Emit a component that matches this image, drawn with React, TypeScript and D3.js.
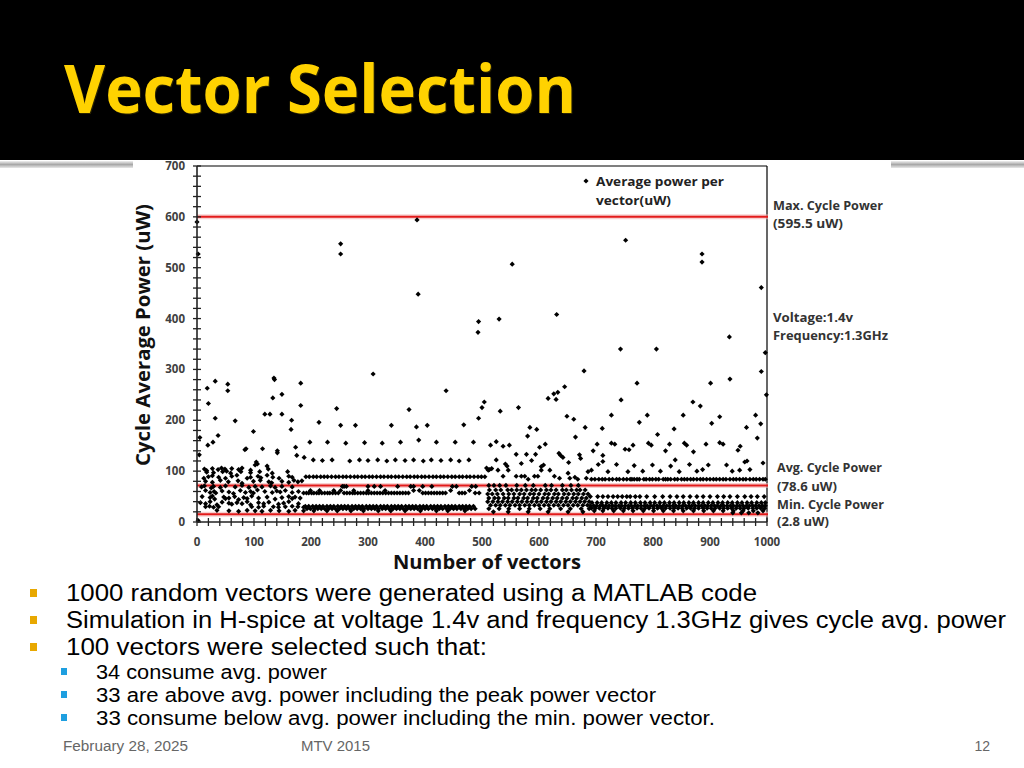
import React from 'react';
import * as d3 from 'd3';

// ---------- axis ticks ----------
const yTickValues = [0, 100, 200, 300, 400, 500, 600, 700];
const xTickValues = [0, 100, 200, 300, 400, 500, 600, 700, 800, 900, 1000];
// reference lines as drawn in the picture (max, avg, min)
const refLineValues = [600, 72, 15];

// ---------- scattered points [vector index, power uW] ----------
const scatterA: [number, number][] = [
  [2, 3],
  [13, 104], [17, 101], [27, 105], [37, 103], [43, 106], [49, 104], [52, 100], [61, 105], [73, 103], [79, 106], [94, 102], [102, 112], [106, 114], [123, 110], [125, 104], [104, 118],
  [17, 98], [29, 97], [45, 99], [59, 96], [77, 99], [94, 97], [110, 99], [132, 96], [159, 99],
  [12, 86], [20, 89], [27, 91], [38, 88], [50, 86], [61, 90], [70, 92], [88, 86], [94, 88], [107, 90], [112, 87], [123, 92], [133, 88], [144, 86], [161, 90], [167, 88],
  [15, 80], [27, 78], [41, 82], [55, 79], [72, 81], [79, 76], [99, 80], [111, 82], [126, 79], [131, 77], [149, 80], [161, 78], [170, 82], [177, 79], [184, 81],
  [8, 69], [13, 71], [25, 67], [29, 70], [41, 68], [50, 71], [67, 69], [79, 72], [91, 68], [102, 70], [114, 69], [129, 71], [137, 68], [149, 70], [167, 69],
  [15, 62], [23, 58], [30, 60], [33, 57], [44, 61], [56, 59], [64, 56], [76, 62], [85, 58], [94, 60], [99, 57], [106, 63], [119, 60], [132, 58], [140, 61], [146, 59], [155, 62], [167, 58], [178, 60], [187, 57],
  [9, 50], [23, 48], [27, 51], [31, 45], [47, 49], [50, 46], [56, 47], [66, 50], [73, 44], [82, 48], [88, 46], [96, 51], [108, 47], [123, 49], [137, 45], [149, 48], [161, 50], [167, 46], [172, 49], [181, 47],
  [6, 38], [15, 36], [23, 40], [35, 34], [44, 39], [56, 37], [61, 35], [70, 38], [79, 36], [88, 40], [94, 34], [108, 38], [117, 36], [126, 39], [143, 35], [152, 37], [161, 40], [178, 36],
  [15, 30], [22, 31], [29, 29], [38, 30], [96, 30], [108, 29], [117, 31], [134, 30], [143, 29], [155, 30], [167, 31], [177, 30], [187, 29],
  [35, 23], [56, 22], [73, 21], [88, 23], [102, 22], [114, 21], [129, 23], [144, 22], [161, 21], [172, 23], [187, 22],
];

const scatterHigh: [number, number][] = [
  // 0-190
  [0, 590], [2, 527], [5, 166], [4, 132], [18, 263], [20, 233], [19, 151], [28, 157], [37, 170], [32, 277], [32, 204], [54, 271], [54, 258], [67, 199], [99, 178], [84, 142], [86, 144], [115, 144], [119, 212], [128, 212], [135, 283], [136, 280], [133, 244], [149, 251], [149, 212], [141, 140], [141, 136], [182, 273], [182, 229], [166, 200], [165, 182], [173, 147], [175, 131], [188, 127],
  // 190-510
  [198, 157], [229, 157], [261, 155], [294, 156], [325, 155], [357, 157], [389, 161], [420, 157], [453, 157], [485, 157],
  [214, 196], [252, 190], [278, 190], [341, 190], [385, 187], [404, 190], [468, 191],
  [204, 122], [220, 121], [237, 122], [268, 120], [285, 122], [300, 121], [317, 122], [333, 120], [348, 122], [365, 121], [380, 122], [397, 120], [411, 122], [428, 121], [445, 122], [460, 120], [477, 122],
  [245, 223], [252, 547], [252, 527], [309, 291], [372, 221], [386, 594], [388, 448], [437, 258], [494, 394], [493, 373], [494, 204], [500, 225], [504, 236], [508, 106], [511, 102],
  // 510-690
  [513, 103], [517, 105], [528, 102], [546, 102], [604, 102], [619, 102], [651, 96], [686, 99], [692, 102],
  [537, 90], [560, 90], [569, 90], [575, 90], [581, 84], [592, 90], [598, 90], [627, 90], [636, 86], [654, 86], [663, 88], [668, 84], [683, 86],
  [515, 151], [525, 158], [532, 218], [537, 149], [548, 151], [525, 122], [541, 114], [544, 110], [560, 133], [564, 225], [569, 115], [578, 133], [580, 169], [584, 186], [587, 121], [594, 133], [596, 182], [601, 147], [604, 109], [608, 112], [611, 153], [616, 243], [626, 252], [630, 241], [633, 255], [635, 135], [638, 131], [642, 127], [645, 266], [649, 208], [652, 117], [661, 202], [664, 167], [671, 132], [673, 125], [679, 297], [681, 186], [553, 507], [530, 399], [631, 408],
  // 690-1000
  [702, 153], [695, 140], [727, 155], [733, 153], [751, 143], [758, 142], [765, 151], [712, 131], [704, 113], [712, 119], [736, 113], [767, 111], [711, 184], [727, 210], [744, 240], [772, 273], [721, 99], [756, 99], [743, 340], [752, 554], [806, 340],
  [901, 273], [935, 281], [990, 296], [999, 250], [776, 196], [790, 210], [853, 210], [870, 236], [883, 228], [903, 194], [917, 207], [964, 186], [980, 210], [989, 193], [983, 165], [808, 172], [837, 183], [792, 155], [797, 151], [829, 153], [855, 155], [859, 151], [871, 138], [822, 140], [893, 153], [917, 156], [923, 153], [949, 141], [953, 149],
  [782, 100], [799, 112], [813, 100], [831, 110], [839, 122], [846, 99], [864, 113], [877, 100], [887, 103], [897, 112], [929, 112], [939, 100], [952, 102], [961, 118], [965, 120], [970, 103], [993, 116], [886, 527], [886, 511], [934, 364], [990, 461], [997, 333],
];

// ---------- dense rows (vector indices that sit on one power level) ----------
const rowB89 = [191, 197, 204, 210, 217, 223, 229, 236, 243, 249, 256, 262, 269, 276, 282, 289, 295, 302, 308, 315, 322, 328, 335, 341, 348, 354, 361, 368, 374, 381, 387, 394, 400, 407, 414, 420, 427, 433, 440, 447, 453, 460, 466, 473, 479, 486, 493, 499, 505];
const rowB70 = [255, 258, 262, 300, 311, 322, 352, 375, 380, 396, 412, 448, 455, 482, 489];
const rowB57 = [192, 196, 201, 205, 210, 214, 219, 224, 229, 233, 238, 243, 248, 258, 263, 268, 273, 277, 282, 287, 292, 297, 301, 306, 311, 316, 321, 326, 331, 336, 341, 346, 351, 356, 361, 366, 371, 396, 401, 406, 411, 416, 421, 426, 431, 436, 460, 465, 470, 488, 495];
const rowB62 = [199, 215, 240, 252, 275, 300, 330, 380, 390, 445, 478];
const rowB31 = [190, 196, 203, 209, 215, 221, 228, 234, 240, 247, 253, 259, 265, 272, 278, 284, 290, 297, 303, 309, 315, 322, 328, 334, 341, 347, 353, 359, 366, 372, 378, 384, 391, 397, 403, 410, 416, 422, 428, 435, 441, 447, 453, 460, 466, 472, 478, 485];
const rowB26 = [193, 199, 206, 212, 218, 224, 231, 237, 243, 250, 256, 262, 268, 275, 281, 287, 293, 300, 306, 312, 318, 325, 331, 337, 344, 350, 356, 362, 369, 375, 381, 387, 394, 400, 406, 413, 419, 425, 431, 438, 444, 450, 456, 463, 469, 475, 481, 488];
const rowB22 = [205, 228, 246, 270, 292, 318, 340, 365, 392, 420, 440, 470];

const rowC72 = [512, 521, 531, 542, 561, 576, 590, 611, 622, 641, 656, 669];
const rowC63 = [513, 524, 533, 545, 552, 561, 569, 578, 587, 594, 603, 613, 621, 630, 641, 648, 657, 666, 672, 681];
const rowC55 = [510, 518, 527, 537, 547, 556, 566, 574, 584, 591, 600, 610, 617, 627, 634, 644, 652, 661, 669, 678, 686];
const rowC47 = [512, 522, 529, 539, 546, 556, 563, 573, 580, 590, 597, 607, 615, 624, 632, 641, 649, 659, 666, 675, 683];
const rowC40 = [510, 519, 528, 536, 545, 553, 562, 570, 579, 587, 596, 604, 613, 621, 630, 638, 647, 655, 664, 672, 680, 688];
const rowC33 = [515, 524, 532, 541, 549, 558, 566, 575, 583, 592, 600, 609, 617, 626, 634, 643, 651, 660, 668, 677, 685];
const rowC26 = [512, 530, 547, 566, 583, 602, 619, 638, 655, 674, 688];
const rowC20 = [520, 546, 581, 616, 651, 677];

const rowD84 = [692, 698, 705, 711, 716, 723, 729, 736, 741, 748, 754, 760, 763, 767, 772, 776, 784, 788, 794, 799, 805, 810, 818, 822, 826, 831, 838, 843, 850, 855, 860, 866, 871, 877, 883, 888, 894, 900, 906, 911, 917, 923, 928, 935, 941, 946, 952, 958, 963, 970, 976, 981, 987, 993, 997];
const rowD50 = [690, 703, 712, 721, 730, 738, 746, 754, 760, 769, 777, 789, 803, 817, 830, 842, 853, 865, 877, 888, 900, 913, 924, 935, 948, 961, 972, 983, 995];
const rowD38 = [693, 702, 710, 719, 727, 735, 744, 752, 761, 769, 778, 786, 795, 803, 812, 820, 829, 837, 846, 854, 863, 871, 880, 888, 897, 905, 914, 922, 931, 939, 948, 956, 965, 973, 982, 990, 997];
const rowD32 = [690, 696, 701, 707, 712, 717, 723, 729, 734, 740, 745, 751, 757, 762, 768, 773, 779, 785, 790, 796, 801, 807, 812, 818, 824, 829, 835, 840, 846, 852, 857, 863, 868, 874, 880, 885, 891, 896, 902, 908, 913, 919, 924, 930, 936, 941, 947, 952, 958, 964, 969, 975, 980, 986, 992, 997];
const rowD27 = [692, 699, 706, 714, 721, 728, 735, 743, 750, 757, 764, 772, 779, 786, 793, 801, 808, 815, 822, 830, 837, 844, 851, 859, 866, 873, 880, 888, 895, 902, 909, 917, 924, 931, 938, 946, 953, 960, 967, 975, 982, 989, 996];
const rowD22 = [697, 712, 731, 748, 765, 783, 801, 818, 836, 853, 871, 889, 906, 923, 941, 958, 976, 993];
const rowD18 = [940, 955, 968, 984];

const rowTable: { level: number; xs: number[] }[] = [
  { level: 89, xs: rowB89 }, { level: 70, xs: rowB70 }, { level: 57, xs: rowB57 }, { level: 62, xs: rowB62 },
  { level: 31, xs: rowB31 }, { level: 26, xs: rowB26 }, { level: 22, xs: rowB22 },
  { level: 72, xs: rowC72 }, { level: 63, xs: rowC63 }, { level: 55, xs: rowC55 }, { level: 47, xs: rowC47 },
  { level: 40, xs: rowC40 }, { level: 33, xs: rowC33 }, { level: 26, xs: rowC26 }, { level: 20, xs: rowC20 },
  { level: 84, xs: rowD84 }, { level: 50, xs: rowD50 }, { level: 38, xs: rowD38 }, { level: 32, xs: rowD32 },
  { level: 27, xs: rowD27 }, { level: 22, xs: rowD22 }, { level: 18, xs: rowD18 },
];

// ---------- slide texts ----------
const bullets = [
  { text: '1000 random vectors were  generated using a MATLAB code', w: 691 },
  { text: 'Simulation in H-spice at voltage 1.4v and frequency 1.3GHz gives cycle avg. power', w: 940 },
  { text: '100 vectors were selected such that:', w: 421 },
];
const subBullets = [
  { text: '34 consume avg. power', w: 231 },
  { text: '33 are above avg. power including the peak power vector', w: 560 },
  { text: '33 consume below avg. power including the min. power vector.', w: 619 },
];
const rightNotes = [
  { t: 'Max. Cycle Power', x: 773, y: 206, w: 110 },
  { t: '(595.5 uW)', x: 773, y: 224, w: 70 },
  { t: 'Voltage:1.4v', x: 773, y: 318, w: 80 },
  { t: 'Frequency:1.3GHz', x: 773, y: 336, w: 115 },
  { t: 'Avg. Cycle Power', x: 777, y: 468, w: 105 },
  { t: '(78.6 uW)', x: 777, y: 487, w: 60 },
  { t: 'Min. Cycle Power', x: 777, y: 505, w: 107 },
  { t: '(2.8 uW)', x: 777, y: 522, w: 52 },
];

export default function App() {
  const x = d3.scaleLinear().domain([0, 1000]).range([197, 767]);
  const y = d3.scaleLinear().domain([0, 700]).range([522, 166]);
  const symType = (d3 as any).symbolDiamond2 ?? d3.symbolDiamond;
  const marker = d3.symbol().type(symType).size(17)() as string;

  const points: [number, number][] = [
    ...scatterA,
    ...scatterHigh,
    ...rowTable.flatMap((r) => r.xs.map((v) => [v, r.level] as [number, number])),
  ];

  const yMinor = d3.range(0, 701, 20);
  const xMinor = d3.range(0, 1001, 20);
  const font = "'Open Sans', 'Liberation Sans', sans-serif";
  const bodyFont = "'Liberation Sans', Arial, sans-serif";
  const [x0, x1] = x.range();
  const [yb, yt] = y.range();

  return (
    <svg width={1024} height={768} style={{ position: 'absolute', left: 0, top: 0, display: 'block' }} fontFamily={font}>
      <defs>
        <linearGradient id="sep" x1="0" y1="0" x2="0" y2="1">
          <stop offset="0" stopColor="#f0f0f0" />
          <stop offset="0.5" stopColor="#a8a8a8" />
          <stop offset="1" stopColor="#e8e8e8" />
        </linearGradient>
      </defs>
      <rect x={0} y={0} width={1024} height={768} fill="#fff" />
      <rect x={0} y={0} width={1024} height={160} fill="#000" />
      <rect x={0} y={161} width={1024} height={7} fill="url(#sep)" />
      <text x={65} y={114} fontSize={66} fontWeight="bold" fill="#2a2300" textLength={512} lengthAdjust="spacingAndGlyphs">Vector Selection</text>
      <text x={64} y={113} fontSize={66} fontWeight="bold" fill="#FFD200" textLength={512} lengthAdjust="spacingAndGlyphs">Vector Selection</text>

      {/* chart picture */}
      <rect x={133} y={160} width={758} height={416} fill="#fff" />

      {/* frame */}
      <line x1={x0} x2={x1} y1={yt} y2={yt} stroke="#000" strokeWidth={1.2} />
      <line x1={x1} x2={x1} y1={yt} y2={yb} stroke="#000" strokeWidth={1.2} />

      {/* reference lines */}
      {refLineValues.map((v) => (
        <g key={v}>
          <line x1={x0} x2={x1 + 1} y1={y(v)} y2={y(v)} stroke="#f3b4b4" strokeWidth={5} opacity={0.6} />
          <line x1={x0} x2={x1 + 1} y1={y(v)} y2={y(v)} stroke="#e31b1b" strokeWidth={2} />
        </g>
      ))}

      {/* points */}
      <g fill="#000">
        {points.map((p, i) => (
          <path key={i} d={marker} transform={`translate(${x(p[0])},${y(p[1])})`} />
        ))}
      </g>

      {/* y axis */}
      <line x1={x0} x2={x0} y1={yt} y2={yb} stroke="#222" strokeWidth={1.6} />
      {yMinor.map((v) => (
        <line key={'ym' + v} x1={x0 - 4} x2={x0 + 4} y1={y(v)} y2={y(v)} stroke="#222" strokeWidth={1.3} />
      ))}
      {yTickValues.map((v) => (
        <text key={'yl' + v} x={185} y={y(v)} dy="0.35em" textAnchor="end" fontSize={11.5} fontWeight="bold" fill="#404040">{v}</text>
      ))}

      {/* x axis */}
      <line x1={x0} x2={x1} y1={yb} y2={yb} stroke="#222" strokeWidth={1.6} />
      {xMinor.map((v) => (
        <line key={'xm' + v} x1={x(v)} x2={x(v)} y1={yb - 4} y2={yb + 4} stroke="#222" strokeWidth={1.3} />
      ))}
      {xTickValues.map((v) => (
        <text key={'xl' + v} x={x(v)} y={546} textAnchor="middle" fontSize={11.5} fontWeight="bold" fill="#404040">{v}</text>
      ))}

      {/* axis titles */}
      <text transform="translate(150,335) rotate(-90)" textAnchor="middle" fontSize={19} fontWeight="bold" fill="#111" textLength={262} lengthAdjust="spacingAndGlyphs">Cycle Average Power (uW)</text>
      <text x={487} y={569} textAnchor="middle" fontSize={19} fontWeight="bold" fill="#111" textLength={188} lengthAdjust="spacingAndGlyphs">Number of vectors</text>

      {/* legend */}
      <path d={marker} transform="translate(586,181)" fill="#000" />
      <text x={596} y={186} fontSize={13} fontWeight="bold" fill="#222" textLength={128} lengthAdjust="spacingAndGlyphs">Average power per</text>
      <text x={596} y={205} fontSize={13} fontWeight="bold" fill="#222" textLength={75} lengthAdjust="spacingAndGlyphs">vector(uW)</text>

      {/* right annotations */}
      {rightNotes.map((n) => (
        <text key={n.t} x={n.x} y={n.y} dy="0.35em" fontSize={12.5} fontWeight="bold" fill="#333" textLength={n.w} lengthAdjust="spacingAndGlyphs">{n.t}</text>
      ))}

      {/* bullets */}
      <g fontFamily={bodyFont}>
        {bullets.map((b, i) => (
          <g key={b.text}>
            <rect x={30} y={589 + i * 27} width={7} height={8} fill="#E8A800" />
            <text x={66} y={601 + i * 27} fontSize={23.5} fill="#000" textLength={b.w} lengthAdjust="spacingAndGlyphs">{b.text}</text>
          </g>
        ))}
        {subBullets.map((b, i) => (
          <g key={b.text}>
            <rect x={61} y={668 + i * 23} width={6} height={7} fill="#1E9FE0" />
            <text x={96} y={679 + i * 23} fontSize={19.5} fill="#000" textLength={b.w} lengthAdjust="spacingAndGlyphs">{b.text}</text>
          </g>
        ))}
        <text x={63} y={751} fontSize={14} fill="#666" textLength={125} lengthAdjust="spacingAndGlyphs">February 28, 2025</text>
        <text x={301} y={751} fontSize={14} fill="#666" textLength={69} lengthAdjust="spacingAndGlyphs">MTV 2015</text>
        <text x={990} y={751} fontSize={14} fill="#666" textAnchor="end">12</text>
      </g>
    </svg>
  );
}
